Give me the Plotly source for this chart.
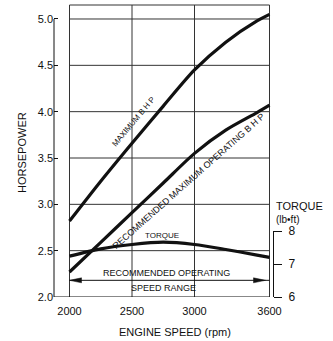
import plotly.graph_objects as go

# ---------------- data ----------------
rpm = [2000, 2250, 2500, 2750, 3000, 3250, 3500, 3600]
max_bhp = [2.82, 3.25, 3.66, 4.06, 4.45, 4.75, 4.98, 5.05]
rec_max_bhp = [2.27, 2.59, 2.91, 3.23, 3.55, 3.80, 3.99, 4.07]
torque = [7.24, 7.46, 7.59, 7.66, 7.59, 7.44, 7.27, 7.20]

x_ticks = [2000, 2500, 3000, 3600]
hp_ticks = [2.0, 2.5, 3.0, 3.5, 4.0, 4.5, 5.0]
hp_tick_text = ["2.0", "2.5", "3.0", "3.5", "4.0", "4.5", "5.0"]
torque_ticks = [6, 7, 8]
speed_range = [2000, 3600]
speed_range_level = 2.18

# ---------------- layout geometry ----------------
W, H = 333, 341
L, R, T, B = 54, 273, 5, 297
x_range = [1876, 3628]
hp_range = [2.0, 5.151]
torque_domain_top = (297 - 231) / (B - T)

FONT = "Liberation Sans, Arial, Helvetica, sans-serif"
INK = "#111111"
GRID = "#333333"


def px_x(px):
    return (px - L) / (R - L)


def px_y(py):
    return (B - py) / (B - T)


fig = go.Figure()

curve_style = dict(color=INK, width=3.2, shape="spline", smoothing=0.8)
fig.add_trace(go.Scatter(x=rpm, y=max_bhp, mode="lines", line=curve_style,
                         hoverinfo="skip", showlegend=False))
fig.add_trace(go.Scatter(x=rpm, y=rec_max_bhp, mode="lines", line=curve_style,
                         hoverinfo="skip", showlegend=False))
fig.add_trace(go.Scatter(x=rpm, y=torque, mode="lines", line=curve_style,
                         yaxis="y2", hoverinfo="skip", showlegend=False))

shapes = []
grid_line = dict(color=GRID, width=1)
# horizontal grid lines (between first and last x tick)
for v in hp_ticks[1:]:
    shapes.append(dict(type="line", xref="x", yref="y", x0=x_ticks[0], x1=x_ticks[-1],
                       y0=v, y1=v, line=grid_line, layer="below"))
# top frame
shapes.append(dict(type="line", xref="x", yref="paper", x0=x_ticks[0], x1=x_ticks[-1],
                   y0=1, y1=1, line=grid_line, layer="below"))
# vertical grid lines
for v in x_ticks:
    shapes.append(dict(type="line", xref="x", yref="paper", x0=v, x1=v,
                       y0=0, y1=1, line=grid_line, layer="below"))
# bottom axis line
shapes.append(dict(type="line", xref="x", yref="y", x0=x_range[0], x1=x_ticks[-1],
                   y0=hp_ticks[0], y1=hp_ticks[0], line=dict(color=INK, width=1)))
# left axis line
shapes.append(dict(type="line", xref="paper", yref="y", x0=0, x1=0,
                   y0=hp_ticks[0], y1=hp_ticks[-1], line=dict(color=INK, width=1)))

# speed range arrow
shapes.append(dict(type="line", xref="x", yref="y", x0=speed_range[0], x1=speed_range[1],
                   y0=speed_range_level, y1=speed_range_level, line=dict(color=INK, width=1)))
rpm_per_px = (x_range[1] - x_range[0]) / (R - L)
hp_per_px = (hp_range[1] - hp_range[0]) / (B - T)
head_len = 12 * rpm_per_px
head_half = 2.5 * hp_per_px
for tip, direction in ((speed_range[0], 1), (speed_range[1] - 4 * rpm_per_px, -1)):
    base = tip + direction * head_len
    path = (f"M {tip} {speed_range_level} L {base} {speed_range_level + head_half} "
            f"L {base} {speed_range_level - head_half} Z")
    shapes.append(dict(type="path", xref="x", yref="y", path=path,
                       fillcolor=INK, line=dict(color=INK, width=0.5)))

annotations = []


def text_ann(text, x, y, size, xref="x", yref="y", angle=0, xanchor="center"):
    annotations.append(dict(text=text, x=x, y=y, xref=xref, yref=yref, showarrow=False,
                            textangle=angle, xanchor=xanchor, yanchor="middle",
                            font=dict(family=FONT, size=size, color=INK)))


text_ann("MAXIMUM B H P", 2515, 3.89, 8, angle=-50)
text_ann("RECOMMENDED MAXIMUM OPERATING B H P", 2955, 3.25, 9, angle=-41.5)
text_ann("TORQUE", 2740, 2.66, 8)
text_ann("RECOMMENDED OPERATING", 2772, 2.26, 9)
text_ann("SPEED RANGE", 2750, 2.10, 9)

text_ann("HORSEPOWER", px_x(22), px_y(153), 11, xref="paper", yref="paper", angle=-90)
text_ann("ENGINE SPEED (rpm)", px_x(175), px_y(332), 11, xref="paper", yref="paper")
text_ann("TORQUE", px_x(274), px_y(206), 11, xref="paper", yref="paper", xanchor="left")
text_ann("(lb•ft)", px_x(274), px_y(219), 10, xref="paper", yref="paper", xanchor="left")

fig.update_layout(
    width=W, height=H,
    margin=dict(l=L, r=W - R, t=T, b=H - B, autoexpand=False),
    paper_bgcolor="white",
    plot_bgcolor="rgba(0,0,0,0)",
    font=dict(family=FONT, color=INK, size=11),
    showlegend=False,
    xaxis=dict(range=x_range, tickvals=x_ticks, ticktext=[str(v) for v in x_ticks],
               showgrid=False, zeroline=False, showline=False, ticks="",
               ticklabelstandoff=6, tickfont=dict(size=11, family=FONT, color=INK),
               fixedrange=True),
    yaxis=dict(range=hp_range, tickvals=hp_ticks, ticktext=hp_tick_text,
               showgrid=False, zeroline=False, showline=False,
               ticks="inside", ticklen=4, tickcolor=INK, tickwidth=1,
               tickfont=dict(size=11, family=FONT, color=INK), fixedrange=True),
    yaxis2=dict(domain=[0, torque_domain_top], range=[6, 8], anchor="x", side="right",
                tickvals=torque_ticks, showgrid=False, zeroline=False,
                showline=True, linecolor=INK, linewidth=1,
                ticks="outside", ticklen=8, tickcolor=INK, tickwidth=1,
                ticklabelstandoff=4,
                tickfont=dict(size=12, family=FONT, color=INK), fixedrange=True),
    shapes=shapes,
    annotations=annotations,
)

fig.write_html("out.html", config={"displayModeBar": False},
               post_script="document.body.style.margin='0';document.body.style.padding='0';")
